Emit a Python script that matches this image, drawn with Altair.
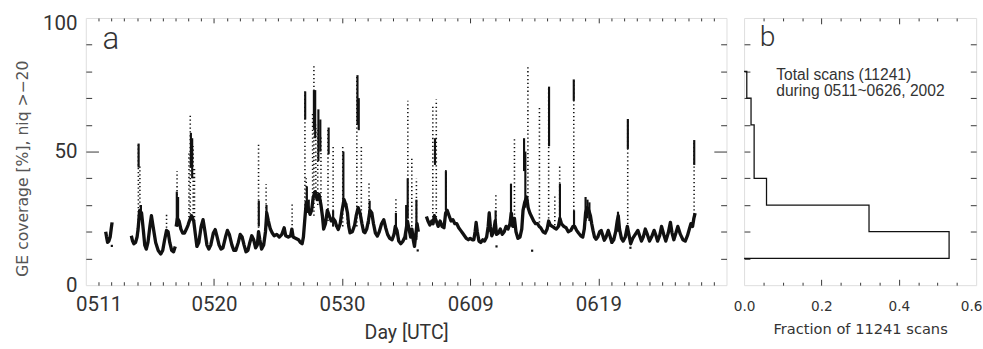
import altair as alt
import pandas as pd

# ---------------- data: panel a (day of year 2002, GE coverage %) ----------------
seg1_day = [131.55, 131.62, 131.70, 131.80, 131.90, 131.98, 132.05]
seg1_val = [20, 18, 16, 16.5, 18, 21, 23.5]

seg2_day = [133.55, 133.65, 133.75, 133.88, 134.0, 134.08, 134.2, 134.35, 134.48, 134.6, 134.72,
            134.85, 135.0, 135.12, 135.25, 135.45, 135.65, 135.85, 136.0, 136.15, 136.3, 136.42,
            136.55, 136.7, 136.85, 136.98]
seg2_val = [18.5, 16.5, 15.5, 16, 18, 21, 28, 27, 21, 15, 13.5,
            16, 22, 26, 22, 16, 13, 11.7, 13, 17, 20.5, 20,
            16, 13, 12.5, 14.5]

seg3_day = [137.05, 137.15, 137.28, 137.42, 137.56, 137.7, 137.85, 137.98, 138.08, 138.25, 138.42,
            138.55, 138.67, 138.82, 139.0, 139.15, 139.3, 139.45, 139.6, 139.75, 139.95, 140.1,
            140.25, 140.4, 140.55, 140.7, 140.9, 141.05, 141.2, 141.4, 141.55, 141.7, 141.9,
            142.05, 142.2, 142.35, 142.5, 142.65, 142.8, 142.95, 143.1, 143.25, 143.38, 143.48,
            143.58, 143.72, 143.88, 144.02, 144.12, 144.25, 144.4, 144.55, 144.7, 144.9, 145.1,
            145.3, 145.48, 145.6, 145.8, 145.98, 146.08, 146.18, 146.4, 146.6, 146.75, 146.88,
            146.98, 147.08, 147.2, 147.35, 147.5, 147.62, 147.75, 147.9, 148.05, 148.2, 148.35,
            148.46, 148.56, 148.7, 148.85, 149.0, 149.15, 149.3, 149.45, 149.58, 149.7, 149.85,
            150.0, 150.15, 150.3, 150.42, 150.52, 150.62, 150.8, 150.98, 151.1, 151.25, 151.4,
            151.55, 151.68, 151.78, 151.92, 152.05, 152.18, 152.32, 152.45, 152.6, 152.75, 152.9,
            153.08, 153.25, 153.4, 153.55, 153.72, 153.9, 154.05, 154.15, 154.28, 154.42, 154.58,
            154.75, 154.9, 155.0, 155.1, 155.22, 155.35, 155.45, 155.55, 155.65, 155.75, 155.85,
            155.95]
seg3_val = [22, 25, 24, 21, 19.5, 19.5, 21, 22.5, 24, 26, 24,
            19, 14.5, 16, 22, 24.5, 20, 15, 13.5, 15, 19.5, 20.8,
            18, 15, 13.5, 14, 18, 20.5, 19, 15, 13, 13, 16,
            19, 18, 15, 12.5, 13, 16, 18.5, 17, 14, 15, 20,
            17, 13.5, 15, 20, 27, 24, 21, 19.5, 18.5, 19, 18,
            19, 21.5, 18.5, 18, 18.5, 21, 18, 17.5, 17, 16, 15.5,
            18, 24, 31, 29, 26.5, 28, 33, 35, 32, 34, 30,
            26, 21, 23, 28, 26, 24, 25, 24, 22, 20.8, 23,
            28, 32, 30, 27, 22, 19.6, 20, 22.5, 26, 29, 27,
            23, 20, 19.6, 21, 24, 28, 27, 23, 19.5, 18.4, 20,
            23, 24.5, 21.5, 19, 17.5, 17, 19, 22, 20.5, 16.5, 15.5,
            16.5, 18, 21, 24, 21, 18, 21, 17, 14.5, 19, 23,
            20]

seg4_day = [156.58, 156.7, 156.85, 157.0, 157.1, 157.2, 157.35, 157.5, 157.65, 157.8, 157.95,
            158.08, 158.2, 158.35, 158.5, 158.65, 158.8, 158.95, 159.1, 159.25, 159.4, 159.55,
            159.7, 159.85, 160.0, 160.15, 160.28, 160.38, 160.46, 160.55, 160.68, 160.82, 160.98,
            161.12, 161.28, 161.4, 161.48, 161.57, 161.68, 161.82, 161.95, 162.05, 162.2, 162.35,
            162.5, 162.65, 162.8, 162.95, 163.1, 163.2, 163.32, 163.45, 163.57, 163.72, 163.88,
            164.02, 164.12, 164.25, 164.4, 164.52, 164.65, 164.8, 164.95, 165.1, 165.25, 165.38,
            165.5, 165.68, 165.85, 166.0, 166.12, 166.25, 166.4, 166.55, 166.72, 166.88, 167.0,
            167.12, 167.3, 167.48, 167.65, 167.85, 168.02, 168.15, 168.3, 168.45, 168.62, 168.78,
            168.9, 169.0, 169.12, 169.25, 169.38, 169.48, 169.58, 169.7, 169.82, 169.95, 170.1,
            170.22, 170.35, 170.46, 170.6, 170.77, 170.9, 171.05, 171.2, 171.35, 171.47, 171.55,
            171.65, 171.8, 171.93, 172.1, 172.26, 172.38, 172.52, 172.68, 172.88, 173.08, 173.22,
            173.36, 173.5, 173.66, 173.82, 173.99, 174.15, 174.35, 174.5, 174.62, 174.78, 174.93,
            175.1, 175.26, 175.45, 175.62, 175.75, 175.89, 176.05, 176.2, 176.4, 176.6, 176.78,
            176.95, 177.1, 177.22, 177.35, 177.45, 177.55]
seg4_val = [25.7, 24, 22.5, 24, 23, 26, 24, 22, 24, 22, 21.5,
            27, 28, 26, 24, 24.5, 23, 23, 21.5, 20.5, 19.5, 18.5,
            17.5, 17, 17.5, 17, 17, 20, 23.5, 20, 16.5, 16, 17,
            16.5, 18, 22, 27, 22, 18.5, 20, 24, 19, 19.5, 21,
            19, 20, 22, 21, 23, 27, 22, 25, 20, 17.5, 18,
            21, 28, 31, 33, 29, 27, 25.5, 24, 23, 23, 22,
            21.5, 20, 19.5, 21, 24, 22.5, 22, 21.5, 21, 22, 25,
            23, 22, 21.5, 20, 20.5, 22, 22, 20.5, 19.5, 18.5, 18,
            21, 27, 29, 28, 26, 23, 20.5, 18, 17.2, 18, 20,
            20.5, 18.5, 16.8, 18, 20.5, 18.5, 16, 17, 20, 24, 26,
            21, 17.5, 16.5, 18, 22, 19, 15.5, 17.5, 19, 20.5, 18.5,
            16.5, 18, 21, 19, 16.5, 18, 20.5, 18.5, 16.5, 18.5, 22,
            19, 16.5, 19.5, 23.5, 19.5, 17, 19.5, 22, 19, 17, 16.5,
            18.5, 21, 23, 22, 25, 27]

# sparse (dotted) excursions: day, lower value, upper value
spike_day = [134.10, 134.22, 136.30, 137.12, 138.05, 138.15, 138.38, 138.48, 143.48, 144.07,
             146.10, 147.10, 147.20, 147.70, 147.80, 147.95, 148.10, 148.35, 148.90, 149.30,
             150.05, 150.40, 151.15, 151.50, 152.10, 154.20, 155.13, 155.44, 155.80, 157.08,
             157.35, 158.10, 162.00, 163.45, 164.50, 165.40, 166.12, 166.60, 166.98, 168.08,
             172.29, 177.47]
spike_lo = [20, 25, 20, 22, 24, 25, 24, 24, 20, 20,
            18, 24, 28, 30, 26, 35, 30, 30, 24, 22,
            22, 23, 22, 25, 23, 20, 22, 22, 18, 24,
            24, 28, 20, 22, 30, 22, 22, 21, 22, 22,
            20, 25]
spike_hi = [53, 45, 27, 42.7, 50, 63.4, 52, 44, 53.6, 37.8,
            31, 72.5, 40, 65, 82.2, 60, 58, 56, 59, 52,
            51.8, 30.5, 78.6, 52, 38.4, 33, 69, 47.6, 40, 67,
            69.5, 44, 34, 55.5, 81.6, 67, 74.3, 34, 45, 77,
            62.2, 54.3]

# densely sampled (solid) excursions: day, lower value, upper value
dense_day = [134.12, 134.30, 137.10, 137.20, 138.20, 138.30, 143.50, 144.10, 147.12, 147.25,
             147.40, 147.80, 147.90, 148.15, 148.30, 148.95, 149.30, 150.10, 151.20, 151.30,
             152.15, 154.20, 155.00, 155.12, 155.80, 157.25, 158.10, 161.48, 161.98, 163.18,
             164.20, 164.30, 166.15, 167.00, 168.08, 168.10, 169.00, 169.15, 169.30, 171.53,
             172.30, 177.48]
dense_lo = [44, 25, 22, 22, 44, 40, 22, 22, 62, 27,
            27, 58.5, 55, 46.4, 50, 49, 22, 30, 60, 58,
            25.7, 20, 17, 25, 17, 45, 28, 20, 22, 22,
            42.7, 29, 52, 24, 69, 22, 24, 25, 24, 20,
            51, 45]
dense_hi = [53, 30, 35, 33, 57, 55, 31.6, 30, 72.5, 37,
            32, 73, 73, 65.8, 62, 59, 28, 50, 78.6, 70,
            31.6, 27, 30, 40, 32, 55, 42.7, 27.5, 28, 38,
            55, 50, 74.3, 38, 77, 28, 33, 32, 31, 27.5,
            62.2, 54.3]

stray_day = [132.03, 155.90, 162.05, 164.83, 172.50]
stray_val = [14.7, 13.0, 14.5, 12.9, 14.0]

xtick_days = [131, 140, 150, 160, 170]
xtick_labels = ["0511", "0520", "0530", "0609", "0619"]
x_major = [140, 150, 160, 170]
x_minor = [d for d in range(131, 180) if d % 10 != 0]
y_labels = [0, 50, 100]
y_minor = [10, 20, 30, 40, 60, 70, 80, 90]
y_major = [50]

# ---------------- data: panel b (histogram) ----------------
hist_lo = [10, 20, 30, 40, 50, 60, 70]
hist_hi = [20, 30, 40, 50, 60, 70, 80]
hist_frac = [0.53, 0.323, 0.058, 0.026, 0.026, 0.018, 0.007]
b_x_labels = [0.0, 0.2, 0.4, 0.6]
b_x_major = [0.2, 0.4]
b_x_minor = [0.05, 0.1, 0.15, 0.25, 0.3, 0.35, 0.45, 0.5, 0.55]
b_y_ticks = [10, 20, 30, 40, 50, 60, 70, 80, 90]

# ---------------- build tables ----------------
rows = []
for sid, (ds, vs) in enumerate([(seg1_day, seg1_val), (seg2_day, seg2_val),
                                (seg3_day, seg3_val), (seg4_day, seg4_val)]):
    for d, v in zip(ds, vs):
        rows.append({"day": d, "val": v, "seg": sid})
base_df = pd.DataFrame(rows)
spike_df = pd.DataFrame({"day": spike_day, "lo": spike_lo, "hi": spike_hi})
dense_df = pd.DataFrame({"day": dense_day, "lo": dense_lo, "hi": dense_hi})
stray_df = pd.DataFrame({"day": stray_day, "val": stray_val})

path = [(0.0, hist_lo[0])]
for lo, hi, f in zip(hist_lo, hist_hi, hist_frac):
    path.append((f, lo))
    path.append((f, hi))
path.append((0.0, hist_hi[-1]))
hist_df = pd.DataFrame({"frac": [p[0] for p in path], "val": [p[1] for p in path],
                        "order": list(range(len(path)))})

COND = "Roboto"
WIDE = "DejaVu Sans"
TXT = "#333333"

W_A, W_B, H = 657, 238, 274
XA = alt.Scale(domain=[130, 180], nice=False, zero=False)
YA = alt.Scale(domain=[0, 100], nice=False, zero=False)
XB = alt.Scale(domain=[0, 0.6], nice=False, zero=False)


def tick_axis(orient, values, size):
    return alt.Axis(orient=orient, values=values, tickSize=size, offset=-size, labels=False,
                    domain=False, grid=False, title="", ticks=True, tickColor="#333333",
                    tickWidth=1, minExtent=0)


def carrier(xdom, ydom, xaxis, yaxis):
    df = pd.DataFrame({"x": [xdom[0]], "y": [ydom[0]]})
    return alt.Chart(df).mark_point(opacity=0, size=1).encode(
        x=alt.X("x:Q", scale=alt.Scale(domain=xdom, nice=False, zero=False), axis=xaxis),
        y=alt.Y("y:Q", scale=alt.Scale(domain=ydom, nice=False, zero=False), axis=yaxis),
    )


label_expr = " : ".join(f"datum.value == {d} ? '{l}'" for d, l in zip(xtick_days, xtick_labels)) + " : ''"

ax_x_a = alt.Axis(orient="bottom", values=xtick_days, labelExpr=label_expr, ticks=False, tickSize=0,
                  domain=False, grid=False, labelFont=COND, labelFontSize=21, labelFontWeight=400,
                  labelColor=TXT, labelPadding=9, labelFlush=False, title="Day [UTC]",
                  titleFont=COND, titleFontSize=20, titleFontWeight=400, titleColor=TXT,
                  titlePadding=9)
ax_y_a = alt.Axis(orient="left", values=y_labels, ticks=False, tickSize=0, domain=False, grid=False,
                  labelFont=COND, labelFontSize=21, labelFontWeight=400, labelColor=TXT,
                  labelPadding=9, labelBaseline="middle",
                  labelOffset=alt.condition("datum.value == 100", alt.value(6), alt.value(0)),
                  title="GE coverage [%], niq >−20", titleFont=WIDE, titleFontSize=16,
                  titleFontWeight="normal", titleColor="#555555", titlePadding=12, titleY=154)

xa = alt.X("day:Q", scale=XA, axis=ax_x_a)

line = alt.Chart(base_df).mark_line(color="#111111", strokeWidth=3.4, strokeJoin="round").encode(
    x=xa, y=alt.Y("val:Q", scale=YA, axis=ax_y_a), detail="seg:N")
spikes = alt.Chart(spike_df).mark_rule(color="#111111", strokeWidth=1.6, strokeDash=[1.3, 2.7]).encode(
    x=xa, y=alt.Y("lo:Q", scale=YA, axis=ax_y_a), y2="hi:Q")
dense = alt.Chart(dense_df).mark_rule(color="#111111", strokeWidth=2.2).encode(
    x=xa, y=alt.Y("lo:Q", scale=YA, axis=ax_y_a), y2="hi:Q")
strays = alt.Chart(stray_df).mark_square(color="#111111", size=5, opacity=1).encode(
    x=xa, y=alt.Y("val:Q", scale=YA, axis=ax_y_a))

data_a = alt.layer(line, spikes, dense, strays)

label_a = alt.Chart(pd.DataFrame({"t": ["a"]})).mark_text(
    font=COND, fontSize=32, fontWeight=300, color=TXT, align="left", baseline="alphabetic").encode(
    x=alt.value(17), y=alt.value(32), text="t:N")

panel_a = alt.layer(
    data_a,
    carrier([130, 180], [0, 100], tick_axis("bottom", x_major, 7), tick_axis("left", y_major, 13)),
    carrier([130, 180], [0, 100], tick_axis("bottom", x_minor, 3.5), tick_axis("left", y_minor, 6)),
    carrier([130, 180], [0, 100], tick_axis("top", x_major, 5), tick_axis("right", y_major, 13)),
    carrier([130, 180], [0, 100], tick_axis("top", x_minor, 3), tick_axis("right", y_minor, 6)),
    label_a,
).resolve_scale(x="independent", y="independent").resolve_axis(
    x="independent", y="independent").properties(width=W_A, height=H)

# ---------------- panel b ----------------
ax_x_b = alt.Axis(orient="bottom", values=b_x_labels, format=".1f", ticks=False, tickSize=0,
                  domain=False, grid=False, labelFont=WIDE, labelFontSize=14, labelColor=TXT,
                  labelPadding=15, labelFlush=False,
                  labelAlign=alt.condition("datum.value > 0.55", alt.value("right"), alt.value("center")),
                  labelOffset=alt.condition("datum.value > 0.55", alt.value(6), alt.value(0)),
                  title="Fraction of 11241 scans", titleFont=WIDE,
                  titleFontSize=15, titleFontWeight="normal", titleColor=TXT, titlePadding=9,
                  minExtent=0)

hist = alt.Chart(hist_df).mark_line(color="#111111", strokeWidth=1.3, interpolate="linear").encode(
    x=alt.X("frac:Q", scale=XB, axis=ax_x_b),
    y=alt.Y("val:Q", scale=YA, axis=None),
    order="order:Q")

label_b = alt.Chart(pd.DataFrame({"t": ["b"]})).mark_text(
    font=COND, fontSize=29, fontWeight=300, color=TXT, align="left", baseline="alphabetic").encode(
    x=alt.value(16), y=alt.value(29), text="t:N")
note_b = alt.Chart(pd.DataFrame({"t": ["Total scans (11241)\nduring 0511~0626, 2002"]})).mark_text(
    font="Liberation Sans", fontSize=16, color=TXT, align="left", baseline="middle",
    lineBreak="\n", lineHeight=16).encode(
    x=alt.value(33), y=alt.value(59), text="t:N")

panel_b = alt.layer(
    hist,
    carrier([0, 0.6], [0, 100], tick_axis("bottom", b_x_major, 6), tick_axis("left", b_y_ticks, 6)),
    carrier([0, 0.6], [0, 100], tick_axis("bottom", b_x_minor, 3), tick_axis("right", b_y_ticks, 6)),
    carrier([0, 0.6], [0, 100], tick_axis("top", b_x_major, 6), None),
    carrier([0, 0.6], [0, 100], tick_axis("top", b_x_minor, 3), None),
    label_b, note_b,
).resolve_scale(x="independent", y="independent").resolve_axis(
    x="independent", y="independent").properties(width=W_B, height=H)

chart = alt.hconcat(panel_a, panel_b, spacing=5).properties(
    padding={"left": 15, "top": 8, "right": 0, "bottom": 0}
).configure_view(stroke="#222222", strokeWidth=1.5).configure(background="white")

chart.save("out.html", embed_options={"renderer": "svg", "actions": False})
